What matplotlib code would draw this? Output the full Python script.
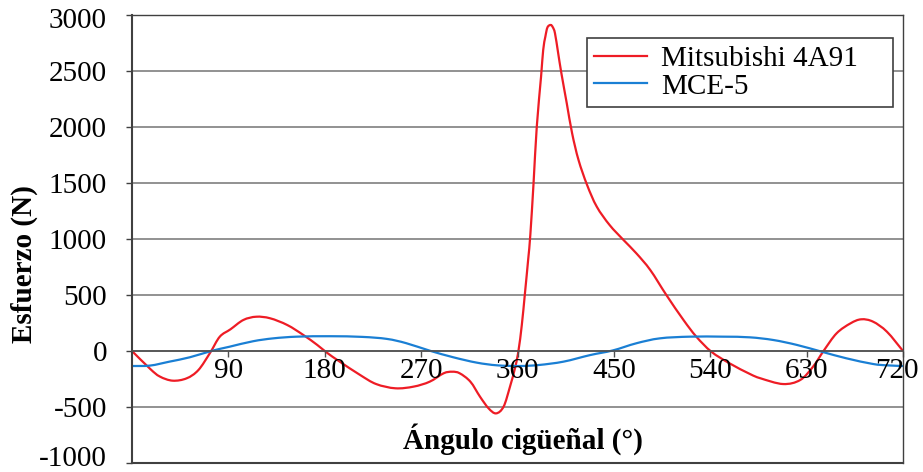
import numpy as np
import matplotlib
matplotlib.use('Agg')
import matplotlib.pyplot as plt
import matplotlib.transforms as mtransforms
from matplotlib.path import Path
from matplotlib.patches import PathPatch
from matplotlib.lines import Line2D

# Mitsubishi 4A91 (red)
angle_red = [0, 17, 26, 38, 51, 62, 73, 82, 92, 104, 116, 129, 145, 160, 173, 182,
             194, 213, 228, 246, 263, 278, 291, 299, 306, 316, 325, 333, 340, 347,
             353, 358, 361, 364, 367, 370, 372, 375, 378, 382, 384, 386, 388, 391, 393,
             395, 398, 401, 406, 411, 417, 425, 434, 446, 459, 471, 484, 499, 515,
             527, 541, 558, 577, 587, 608, 624, 636, 646, 658, 671, 681, 692, 705, 720]
force_red = [0, -160, -228, -265, -244, -170, -15, 128, 194, 277, 306, 292, 232, 143, 54, -15,
             -95, -214, -295, -333, -318, -274, -199, -185, -199, -274, -408, -512, -557, -497,
             -318, -140, 9, 230, 520, 820, 1040, 1500, 2003, 2449, 2688, 2806, 2890, 2911, 2890,
             2837, 2658, 2479, 2212, 1944, 1705, 1482, 1289, 1125, 991, 872, 723, 500, 277,
             128, -6, -110, -205, -244, -295, -259, -140, 3, 158, 247, 283, 262, 172, 0]

# MCE-5 (blue)
angle_blue = [0, 17, 35, 54, 74, 91, 113, 132, 154, 185, 215, 238, 256, 278, 300, 322,
              341, 362, 380, 403, 428, 449, 471, 493, 521, 552, 577, 599, 621, 644,
              667, 692, 705, 720]
force_blue = [-134, -130, -95, -56, 0, 38, 87, 113, 128, 132, 126, 108, 70, 3, -56, -104,
              -128, -134, -125, -95, -36, 5, 69, 113, 128, 128, 122, 98, 54, -6,
              -65, -116, -128, -134]

x_ticks = [90, 180, 270, 360, 450, 540, 630, 720]
y_ticks = [-1000, -500, 0, 500, 1000, 1500, 2000, 2500, 3000]

RED = '#ee1c25'
BLUE = '#1a7fd4'


def smooth_path(xs, ys):
    # spreadsheet-style smoothed line: cubic Bezier segments through the points
    p = np.column_stack([xs, ys]).astype(float)
    verts = [p[0]]
    codes = [Path.MOVETO]
    n = len(p)
    for i in range(n - 1):
        p0 = p[i - 1] if i > 0 else p[i]
        p3 = p[i + 2] if i + 2 < n else p[i + 1]
        c1 = p[i] + (p[i + 1] - p0) / 6
        c2 = p[i + 1] - (p3 - p[i]) / 6
        verts += [c1, c2, p[i + 1]]
        codes += [Path.CURVE4] * 3
    return Path(verts, codes)


plt.rcParams['font.family'] = ['Liberation Serif', 'DejaVu Serif']
plt.rcParams['axes.unicode_minus'] = False

fig = plt.figure(figsize=(9.23, 4.72), dpi=100)
ax = fig.add_axes([132 / 923, 1 - 463 / 472, 771 / 923, 448 / 472])

for y in y_ticks:
    ax.axhline(y, color='#7f7f7f', lw=1.2, zorder=0)

ax.add_patch(PathPatch(smooth_path(angle_red, force_red), fill=False,
                       edgecolor=RED, lw=1.6))
ax.add_patch(PathPatch(smooth_path(angle_blue, force_blue), fill=False,
                       edgecolor=BLUE, lw=1.6))

ax.set_xlim(0, 720)
ax.set_ylim(-1000, 3000)

for side in ['top', 'right']:
    ax.spines[side].set_color('#404040')
    ax.spines[side].set_linewidth(1.0)
ax.spines['left'].set_color('#404040')
ax.spines['left'].set_linewidth(1.5)
ax.spines['bottom'].set_position(('data', 0))
ax.spines['bottom'].set_color('#505050')
ax.spines['bottom'].set_linewidth(1.2)
ax.plot([0, 1], [0, 0], transform=ax.transAxes, color='#404040', lw=1.5, clip_on=False)

ax.set_xticks(x_ticks)
ax.set_yticks(y_ticks)
ax.tick_params(axis='x', direction='out', length=4, width=1, colors='#505050',
               labelcolor='black', labelsize=21, pad=1)
ax.tick_params(axis='y', direction='out', length=4, width=1, colors='#404040',
               labelcolor='black', labelsize=21, pad=14)

# end labels are pulled inward, as in the original
ylabels = ax.get_yticklabels()
ylabels[0].set_transform(ylabels[0].get_transform() +
                         mtransforms.ScaledTranslation(0, 7 / 100, fig.dpi_scale_trans))
ylabels[-1].set_transform(ylabels[-1].get_transform() +
                          mtransforms.ScaledTranslation(0, -3 / 100, fig.dpi_scale_trans))
xlabels = ax.get_xticklabels()
xlabels[-1].set_transform(xlabels[-1].get_transform() +
                          mtransforms.ScaledTranslation(-6 / 100, 0, fig.dpi_scale_trans))

fig.text(24 / 923, 1 - 264 / 472, 'Esfuerzo (N)', rotation=90, ha='center', va='center',
         fontsize=21, fontweight='bold')
fig.text(523 / 923, 1 - 449 / 472, 'Ángulo cigüeñal (°)', ha='center', va='baseline',
         fontsize=21, fontweight='bold')

handles = [Line2D([], [], color=RED, lw=1.6), Line2D([], [], color=BLUE, lw=1.6)]
leg = ax.legend(handles, ['Mitsubishi 4A91', 'MCE-5'], loc='upper left',
                bbox_to_anchor=(587 / 923, 1 - 108 / 472, 306 / 923, 70 / 472),
                bbox_transform=fig.transFigure, mode='expand', fontsize=21,
                frameon=True, fancybox=False, handlelength=1.8, handletextpad=0.5,
                borderpad=0.25, labelspacing=0.05, borderaxespad=0)
leg.get_frame().set_edgecolor('#404040')
leg.get_frame().set_linewidth(1.2)
leg.get_frame().set_alpha(1)

fig.savefig('out.png', dpi=100)
